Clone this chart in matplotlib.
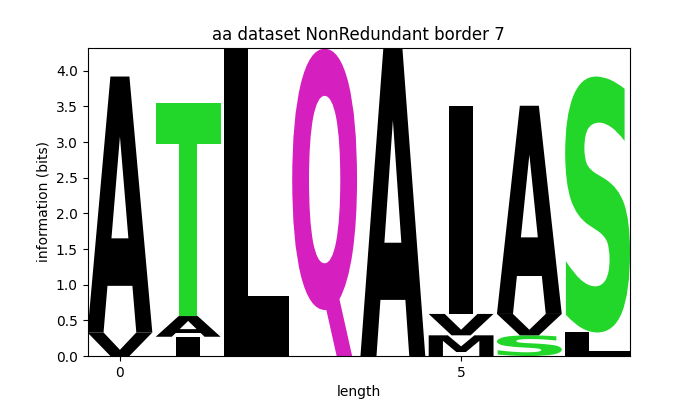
import matplotlib
matplotlib.use("Agg")
import matplotlib.pyplot as plt
from matplotlib.textpath import TextPath
from matplotlib.patches import PathPatch
from matplotlib.font_manager import FontProperties
from matplotlib.transforms import Affine2D

positions = [0, 1, 2, 3, 4, 5, 6, 7]
# letters per position, bottom to top, with heights (bits)
stack_letters = [
    ["V", "A"],
    ["I", "A", "T"],
    ["L"],
    ["Q"],
    ["A"],
    ["M", "V", "I"],
    ["S", "V", "A"],
    ["L", "S"],
]
stack_heights = [
    [0.33, 3.59],
    [0.27, 0.29, 2.99],
    [4.32],
    [4.31],
    [4.32],
    [0.29, 0.30, 2.92],
    [0.29, 0.30, 2.92],
    [0.33, 3.59],
]
letter_colors = {"A": "black", "V": "black", "I": "black", "L": "black",
                 "M": "black", "T": "#22d62a", "S": "#22d62a", "Q": "#d51fbe"}

fig, ax = plt.subplots(figsize=(7, 4), dpi=100)
fp = FontProperties(family="DejaVu Sans", weight="bold")
width = 0.95
ref_w = TextPath((0, 0), "E", size=1, prop=fp).get_extents().width

for x, letters, heights in zip(positions, stack_letters, stack_heights):
    floor = 0.0
    for ch, h in zip(letters, heights):
        tp = TextPath((0, 0), ch, size=1, prop=fp)
        bb = tp.get_extents()
        hs = min(width / bb.width, width / ref_w)
        cw = hs * bb.width
        tr = (Affine2D().translate(-bb.x0, -bb.y0)
              .scale(hs, h / bb.height)
              .translate(x - cw / 2, floor))
        path = tr.transform_path(tp)
        ax.add_patch(PathPatch(path, facecolor=letter_colors[ch],
                               edgecolor="none", lw=0))
        floor += h

ax.set_xlim(min(positions) - width / 2, max(positions) + width / 2)
ax.set_ylim(0, max(sum(h) for h in stack_heights))
ax.set_xticks([0, 5])
ax.set_yticks([0, 0.5, 1, 1.5, 2, 2.5, 3, 3.5, 4])
ax.set_yticklabels(["0.0", "0.5", "1.0", "1.5", "2.0", "2.5", "3.0", "3.5", "4.0"])
ax.set_xlabel("length")
ax.set_ylabel("information (bits)")
ax.set_title("aa dataset NonRedundant border 7")
fig.savefig("out.png", dpi=100)
